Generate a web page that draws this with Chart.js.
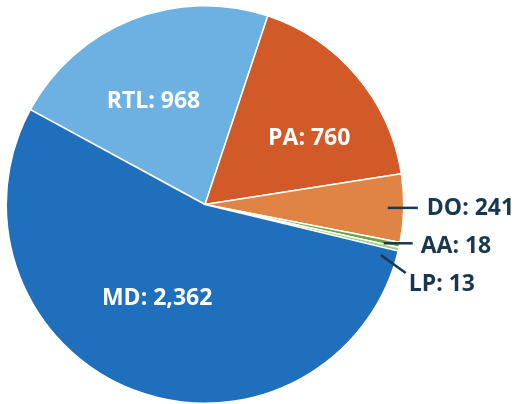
<!DOCTYPE html>
<html lang="en">
<head>
    <meta charset="UTF-8">
    <title>Pie</title>
    <script src="https://cdn.jsdelivr.net/npm/chart.js"></script>
    <style>
        body {
            margin: 0;
            background-color: #ffffff;
        }
        #wrap {
            width: 525px;
            height: 404px;
        }
    </style>
</head>
<body>
    <div id="wrap"><canvas id="pieChart" width="525" height="404"></canvas></div>

    <script>
        // data
        const categories = ['RTL', 'PA', 'DO', 'AA', 'LP', 'MD'];
        const counts = [968, 760, 241, 18, 13, 2362];
        const sliceColors = ['#6db1e3', '#d25a28', '#e08446', '#6ca43f', '#9fd08a', '#1f6fbd'];

        // which slices get an outside label with a leader line
        const outsideLabels = {
            2: { angleShift: 0, dx: 30, dy: 0, textDx: 9, textDy: 1 },
            3: { angleShift: 0.5, dx: 29, dy: 0, textDx: 8, textDy: 3 },
            4: { angleShift: 3, dx: 25, dy: 18, textDx: 3, textDy: 11 }
        };
        // small nudges for inside labels (radius fraction, angle shift in degrees)
        const insideTweak = {
            0: { r: 0.58, a: -5 },
            1: { r: 0.62, a: 8 },
            5: { r: 0.53, a: 6 }
        };

        const labelPlugin = {
            id: 'sliceLabels',
            afterDatasetsDraw(chart) {
                const ctx = chart.ctx;
                const meta = chart.getDatasetMeta(0);
                ctx.save();
                ctx.font = 'bold 23px "Open Sans", Lato, sans-serif';
                ctx.textBaseline = 'middle';
                meta.data.forEach((arc, i) => {
                    const p = arc.getProps(['x', 'y', 'startAngle', 'endAngle', 'outerRadius'], true);
                    const text = categories[i] + ': ' + counts[i].toLocaleString('en-US');
                    const mid = (p.startAngle + p.endAngle) / 2;
                    if (outsideLabels[i]) {
                        const o = outsideLabels[i];
                        const a = mid + o.angleShift * Math.PI / 180;
                        const r = p.outerRadius * 0.92;
                        const x0 = p.x + Math.cos(a) * r;
                        const y0 = p.y + Math.sin(a) * r;
                        const x1 = x0 + o.dx;
                        const y1 = y0 + o.dy;
                        ctx.strokeStyle = '#17384f';
                        ctx.lineWidth = 2.5;
                        ctx.beginPath();
                        ctx.moveTo(x0, y0);
                        ctx.lineTo(x1, y1);
                        ctx.stroke();
                        ctx.fillStyle = '#17384f';
                        ctx.textAlign = 'left';
                        ctx.fillText(text, x1 + o.textDx, y1 + o.textDy);
                    } else {
                        const t = insideTweak[i] || { r: 0.6, a: 0 };
                        const a = mid + t.a * Math.PI / 180;
                        const x = p.x + Math.cos(a) * p.outerRadius * t.r;
                        const y = p.y + Math.sin(a) * p.outerRadius * t.r;
                        ctx.fillStyle = '#ffffff';
                        ctx.textAlign = 'center';
                        ctx.fillText(text, x, y);
                    }
                });
                ctx.restore();
            }
        };

        const ctx = document.getElementById('pieChart').getContext('2d');
        const pieChart = new Chart(ctx, {
            type: 'pie',
            data: {
                labels: categories,
                datasets: [{
                    data: counts,
                    backgroundColor: sliceColors,
                    borderColor: '#ffffff',
                    borderWidth: 1.5
                }]
            },
            options: {
                responsive: false,
                animation: false,
                rotation: -61.5,
                layout: {
                    padding: { left: 5, right: 120, top: 5, bottom: 0 }
                },
                plugins: {
                    legend: { display: false },
                    tooltip: { enabled: false }
                }
            },
            plugins: [labelPlugin]
        });
    </script>
</body>
</html>
